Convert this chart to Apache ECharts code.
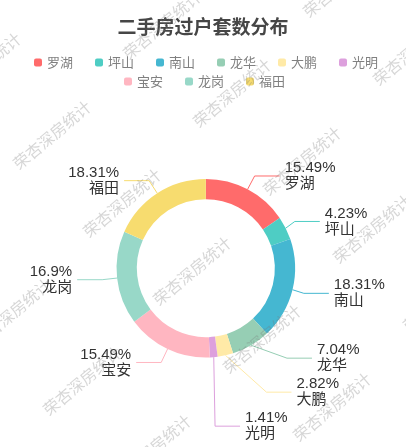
<!DOCTYPE html>
<html>
<head>
<meta charset="utf-8">
<script src="https://cdn.jsdelivr.net/npm/echarts@6/dist/echarts.min.js"></script>
<style>
html,body{margin:0;padding:0;background:#fff;}
#main{width:406px;height:447px;}
</style>
</head>
<body>
<div id="main"></div>
<script>
var categories = ['罗湖', '坪山', '南山', '龙华', '大鹏', '光明', '宝安', '龙岗', '福田'];
var counts = [11, 3, 13, 5, 2, 1, 11, 12, 13];
var colors = ['#FF6B6B', '#4ECDC4', '#45B7D1', '#96CEB4', '#FFEAA7', '#DDA0DD', '#FFB6C1', '#98D8C8', '#F7DC6F'];
var legendRow1 = ['罗湖', '坪山', '南山', '龙华', '大鹏', '光明'];
var legendRow2 = ['宝安', '龙岗', '福田'];
var titleText = '二手房过户套数分布';
var watermarkText = '荣杏深房统计';

var chart = echarts.init(document.getElementById('main'), null, {renderer: 'canvas'});

var data = categories.map(function (c, i) {
  return {name: c, value: counts[i]};
});

// decorative watermark, tiled on a lattice
var wm = [];
var ox = 52, oy = 135, ux = 70, uy = 68, vx = 180, vy = -42;
for (var i = -8; i <= 8; i++) {
  for (var j = -8; j <= 8; j++) {
    var x = ox + i * ux + j * vx;
    var y = oy + i * uy + j * vy;
    if (x < -80 || x > 490 || y < -80 || y > 530) continue;
    wm.push({
      type: 'text',
      x: x, y: y,
      rotation: 40 * Math.PI / 180,
      z: 100,
      silent: true,
      style: {
        text: watermarkText,
        x: 0, y: 0,
        align: 'center', verticalAlign: 'middle',
        fontSize: 16,
        fontFamily: 'Noto Sans CJK SC',
        fill: 'rgba(120,120,120,0.3)'
      }
    });
  }
}

function legendBase(top, left, items) {
  return {
    top: top,
    left: left,
    icon: 'roundRect',
    itemWidth: 8,
    itemHeight: 8,
    itemGap: 4,
    padding: 0,
    textStyle: {fontSize: 13, lineHeight: 15, color: '#808080', fontFamily: 'Noto Sans CJK SC', padding: [0, 18, 0, 0]},
    data: items
  };
}

chart.setOption({
  backgroundColor: '#fff',
  color: colors,
  title: {
    text: titleText,
    left: 'center',
    top: 12,
    textStyle: {fontSize: 19, fontWeight: 'bold', color: '#464646', fontFamily: 'Noto Sans CJK SC'}
  },
  legend: [legendBase(55, 34, legendRow1), legendBase(74, 124, legendRow2)],
  graphic: wm,
  series: [{
    type: 'pie',
    radius: ['34%', '44%'],
    center: ['50.7%', '60%'],
    avoidLabelOverlap: true,
    label: {
      show: true,
      formatter: '{d}%\n{b}',
      fontSize: 15,
      lineHeight: 16,
      color: '#333',
      fontFamily: 'Liberation Sans, Noto Sans CJK SC'
    },
    labelLine: {
      show: true,
      length: 15,
      length2: 25,
      lineStyle: {width: 1}
    },
    itemStyle: {borderWidth: 0},
    data: data
  }]
});
</script>
</body>
</html>
